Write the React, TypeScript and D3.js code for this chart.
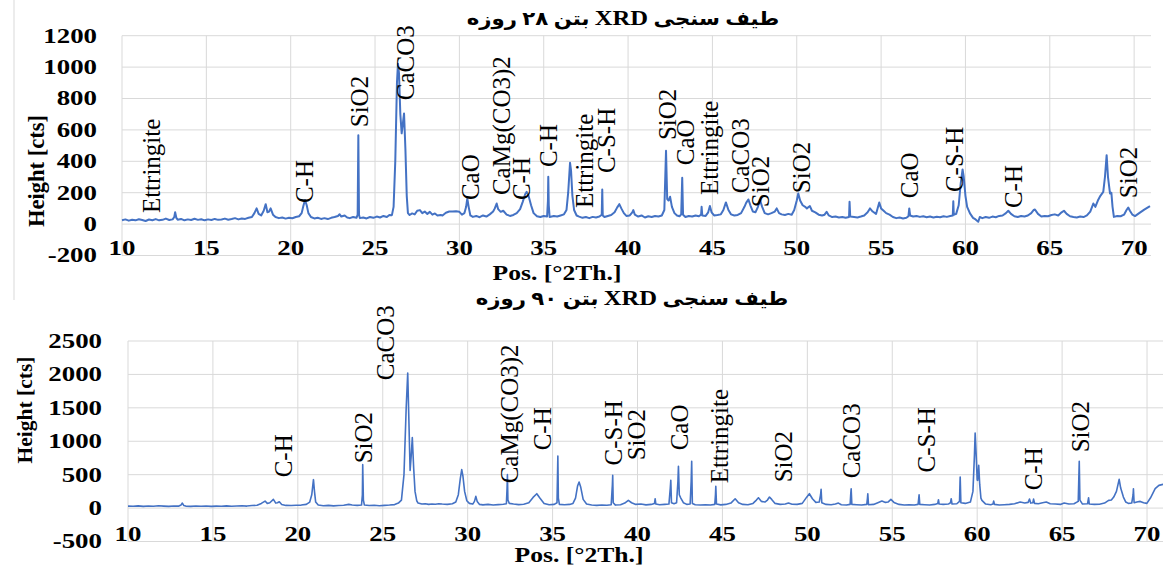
import React from 'react';
import * as d3 from 'd3';

const W = 1163;
const H = 569;

// ---------- tick values ----------
const xTicks = [10, 15, 20, 25, 30, 35, 40, 45, 50, 55, 60, 65, 70];
const yTicks28 = [-200, 0, 200, 400, 600, 800, 1000, 1200];
const yTicks90 = [-500, 0, 500, 1000, 1500, 2000, 2500];

// ---------- titles (Persian parts around the "XRD" token) ----------
const title28 = ['طیف سنجی  ', 'XRD', ' بتن ۲۸ روزه'];
const title90 = ['طیف سنجی ', 'XRD', ' بتن  ۹۰ روزه'];
const xTitle = 'Pos. [°2Th.]';
const yTitle = 'Height [cts]';

// ---------- 28 day pattern [pos °2Th, height cts] ----------
const xrd28Low: [number, number][] = [
  [10.0, 25], [10.2, 30], [10.4, 22], [10.6, 28], [10.8, 24], [11.0, 31], [11.2, 26], [11.4, 20], [11.6, 29], [11.8, 25],
  [12.0, 32], [12.2, 24], [12.4, 27], [12.6, 35], [12.8, 26], [13.0, 30], [13.1, 45], [13.15, 76], [13.22, 40], [13.3, 28],
  [13.5, 33], [13.7, 24], [13.9, 30], [14.1, 26], [14.3, 34], [14.5, 27], [14.7, 31], [14.9, 24], [15.1, 30], [15.3, 26],
  [15.5, 33], [15.7, 27], [15.9, 29], [16.1, 35], [16.3, 28], [16.5, 32], [16.7, 38], [16.9, 30], [17.1, 36], [17.3, 33],
  [17.5, 40], [17.7, 45], [17.85, 70], [17.98, 100], [18.1, 65], [18.25, 55], [18.4, 85], [18.52, 127], [18.62, 75], [18.72, 80],
  [18.81, 100], [18.95, 60], [19.1, 45], [19.3, 38], [19.5, 42], [19.7, 35], [19.9, 40], [20.1, 37], [20.3, 45], [20.5, 50],
  [20.65, 70], [20.75, 115], [20.85, 153], [20.95, 120], [21.05, 70], [21.2, 45], [21.4, 36], [21.6, 40], [21.8, 33], [22.0, 38],
  [22.2, 32], [22.4, 40], [22.6, 45], [22.8, 52], [22.9, 63], [23.0, 48], [23.2, 55], [23.35, 42], [23.5, 38], [23.7, 45],
  [23.9, 40], [23.97, 60], [24.01, 566], [24.05, 60], [24.1, 38], [24.3, 42], [24.5, 36], [24.7, 45], [24.9, 40], [25.1, 48],
  [25.3, 42], [25.5, 52], [25.7, 45], [25.85, 58], [26.0, 57], [26.1, 110], [26.2, 400], [26.3, 900], [26.36, 1022], [26.42, 960],
  [26.5, 700], [26.58, 578], [26.65, 640], [26.72, 705], [26.8, 480], [26.88, 180], [26.95, 70], [27.05, 58], [27.2, 68], [27.35, 62],
  [27.5, 85], [27.66, 89], [27.8, 70], [27.95, 80], [28.1, 65], [28.25, 78], [28.4, 60], [28.55, 68], [28.7, 55], [28.9, 58],
  [29.0, 55], [29.2, 72], [29.4, 80], [29.6, 80], [29.8, 82], [30.0, 78]
];
const xrd28Mid: [number, number][] = [
  [30.15, 60], [30.3, 70], [30.4, 110], [30.47, 163], [30.55, 110], [30.65, 55], [30.8, 46], [31.0, 52], [31.2, 44], [31.4, 55],
  [31.6, 48], [31.8, 62], [32.0, 80], [32.1, 100], [32.21, 131], [32.3, 95], [32.45, 78], [32.6, 85], [32.8, 60], [33.0, 52],
  [33.2, 58], [33.4, 70], [33.6, 95], [33.75, 140], [33.9, 190], [33.99, 205], [34.1, 180], [34.25, 120], [34.4, 70], [34.6, 50],
  [34.8, 45], [35.0, 52], [35.2, 48], [35.25, 150], [35.27, 301], [35.3, 120], [35.35, 45], [35.6, 52], [35.8, 48], [36.0, 55],
  [36.2, 62], [36.35, 90], [36.45, 200], [36.56, 390], [36.62, 340], [36.7, 180], [36.8, 90], [36.95, 55], [37.1, 48], [37.3, 40],
  [37.5, 45], [37.7, 38], [37.9, 46], [38.1, 42], [38.3, 48], [38.44, 60], [38.47, 221], [38.5, 55], [38.6, 45], [38.8, 52],
  [39.0, 58], [39.2, 75], [39.35, 105], [39.48, 127], [39.6, 100], [39.75, 70], [39.9, 52], [40.1, 55], [40.25, 75], [40.31, 89],
  [40.4, 60], [40.6, 48], [40.8, 55], [41.0, 42], [41.2, 50], [41.4, 45], [41.6, 52], [41.8, 48], [42.0, 55], [42.15, 90],
  [42.25, 467], [42.32, 160], [42.4, 150], [42.49, 174], [42.6, 110], [42.75, 70], [42.9, 55], [43.05, 50], [43.15, 62], [43.21, 295],
  [43.26, 60], [43.4, 45], [43.6, 52], [43.8, 48], [44.0, 55], [44.2, 50], [44.33, 60], [44.36, 110], [44.4, 55], [44.6, 52],
  [44.75, 75], [44.85, 115], [44.95, 75], [45.1, 55], [45.3, 58], [45.5, 62], [45.65, 90], [45.8, 138], [45.95, 90], [46.1, 62],
  [46.3, 55], [46.5, 58], [46.7, 70], [46.9, 110], [47.0, 135], [47.13, 157], [47.25, 120], [47.4, 80], [47.55, 75], [47.7, 110],
  [47.82, 153], [47.95, 110], [48.1, 70], [48.3, 62], [48.5, 70], [48.7, 80], [48.81, 100], [48.95, 70], [49.1, 62], [49.3, 58],
  [49.5, 65], [49.7, 60], [49.85, 90]
];
const xrd28High: [number, number][] = [
  [50.0, 150], [50.09, 195], [50.2, 150], [50.35, 120], [50.5, 110], [50.6, 100], [50.78, 115], [50.9, 85], [51.1, 75], [51.3, 60],
  [51.5, 55], [51.65, 60], [51.77, 78], [51.9, 55], [52.1, 45], [52.3, 48], [52.5, 42], [52.7, 45], [52.9, 40], [53.1, 45],
  [53.13, 142], [53.17, 48], [53.4, 45], [53.6, 42], [53.8, 48], [54.0, 55], [54.2, 75], [54.34, 100], [54.5, 80], [54.7, 65],
  [54.89, 138], [55.0, 100], [55.15, 85], [55.3, 70], [55.5, 60], [55.7, 45], [55.9, 38], [56.1, 42], [56.3, 36], [56.5, 40],
  [56.62, 50], [56.67, 100], [56.72, 55], [56.9, 48], [57.1, 52], [57.3, 46], [57.5, 50], [57.7, 44], [57.9, 48], [58.1, 42],
  [58.3, 47], [58.5, 44], [58.7, 50], [58.9, 46], [59.1, 52], [59.25, 55], [59.28, 146], [59.31, 60], [59.45, 65], [59.6, 120],
  [59.72, 260], [59.83, 348], [59.9, 300], [60.0, 180], [60.1, 110], [60.27, 68], [60.45, 40], [60.6, 30], [60.76, 15], [60.85, 45],
  [61.0, 38], [61.2, 45], [61.4, 40], [61.6, 48], [61.8, 44], [62.0, 52], [62.2, 55], [62.4, 70], [62.54, 85], [62.7, 65],
  [62.9, 50], [63.1, 45], [63.3, 52], [63.5, 48], [63.7, 55], [63.9, 70], [64.05, 90], [64.12, 93], [64.3, 65], [64.5, 48],
  [64.7, 52], [64.9, 50], [65.1, 58], [65.3, 62], [65.5, 55], [65.7, 75], [65.84, 85], [66.0, 65], [66.2, 50], [66.4, 45],
  [66.6, 42], [66.8, 48], [67.0, 45], [67.2, 55], [67.4, 80], [67.58, 131], [67.7, 110], [67.85, 150], [68.0, 180], [68.17, 205],
  [68.27, 300], [68.37, 439], [68.45, 300], [68.57, 195], [68.65, 200], [68.72, 110], [68.8, 46], [69.0, 52], [69.2, 50], [69.4, 60],
  [69.55, 90], [69.65, 106], [69.75, 85], [69.9, 60], [70.05, 51], [70.3, 70], [70.6, 92], [70.94, 115]
];

// ---------- 90 day pattern [pos °2Th, height cts] ----------
const xrd90Low: [number, number][] = [
  [10.0, 30], [10.3, 28], [10.6, 33], [10.9, 26], [11.2, 31], [11.5, 27], [11.8, 34], [12.1, 29], [12.4, 25], [12.7, 32],
  [13.0, 30], [13.12, 45], [13.2, 75], [13.28, 40], [13.4, 30], [13.7, 26], [14.0, 32], [14.3, 27], [14.6, 31], [14.9, 25],
  [15.2, 30], [15.5, 27], [15.8, 33], [16.1, 28], [16.4, 31], [16.7, 35], [17.0, 30], [17.3, 38], [17.6, 42], [17.85, 70],
  [18.07, 105], [18.2, 70], [18.35, 80], [18.56, 130], [18.7, 75], [18.8, 80], [18.91, 95], [19.05, 55], [19.3, 40], [19.6, 38],
  [19.9, 42], [20.2, 45], [20.5, 55], [20.7, 90], [20.82, 200], [20.92, 425], [20.98, 250], [21.05, 90], [21.2, 45], [21.5, 35],
  [21.8, 40], [22.1, 33], [22.4, 38], [22.7, 42], [23.0, 55], [23.2, 45], [23.5, 40], [23.75, 45], [23.8, 200], [23.82, 650],
  [23.86, 120], [23.92, 45], [24.2, 38], [24.5, 42], [24.8, 35], [25.1, 40], [25.4, 45], [25.7, 52], [25.92, 75], [26.1, 120],
  [26.25, 500], [26.38, 1500], [26.47, 2021], [26.54, 1300], [26.61, 564], [26.68, 800], [26.74, 1054], [26.82, 600], [26.9, 250], [27.0, 110],
  [27.08, 75], [27.3, 60], [27.5, 65], [27.7, 55], [27.9, 62], [28.1, 58], [28.3, 65], [28.5, 60], [28.8, 55], [29.1, 65],
  [29.3, 90], [29.45, 200], [29.57, 450], [29.65, 575], [29.72, 480], [29.82, 250], [29.95, 110], [30.1, 70]
];
const xrd90Mid: [number, number][] = [
  [30.3, 60], [30.4, 100], [30.48, 175], [30.56, 100], [30.7, 55], [30.9, 48], [31.2, 55], [31.5, 45], [31.8, 52], [32.1, 58],
  [32.28, 65], [32.32, 300], [32.34, 500], [32.37, 120], [32.45, 70], [32.7, 60], [33.0, 52], [33.3, 58], [33.6, 80], [33.85, 160],
  [34.07, 215], [34.25, 150], [34.5, 70], [34.8, 50], [35.1, 55], [35.26, 80], [35.29, 500], [35.31, 780], [35.34, 150], [35.4, 55],
  [35.7, 50], [36.0, 55], [36.2, 70], [36.35, 150], [36.47, 330], [36.56, 390], [36.65, 320], [36.8, 130], [37.0, 60], [37.3, 45],
  [37.6, 40], [37.9, 45], [38.2, 42], [38.45, 50], [38.52, 350], [38.54, 490], [38.57, 80], [38.7, 45], [39.0, 50], [39.25, 75],
  [39.46, 115], [39.65, 80], [39.9, 55], [40.2, 60], [40.5, 48], [40.8, 55], [41.0, 70], [41.04, 140], [41.08, 60], [41.3, 50],
  [41.6, 55], [41.85, 60], [41.93, 300], [41.96, 415], [42.0, 80], [42.15, 65], [42.3, 80], [42.38, 400], [42.41, 625], [42.46, 200],
  [42.55, 150], [42.7, 80], [42.9, 55], [43.1, 60], [43.16, 400], [43.19, 700], [43.23, 70], [43.4, 50], [43.7, 45], [44.0, 50],
  [44.3, 45], [44.55, 55], [44.59, 200], [44.61, 325], [44.65, 60], [44.9, 48], [45.2, 55], [45.5, 75], [45.75, 140], [45.95, 80],
  [46.2, 55], [46.5, 50], [46.8, 70], [47.0, 120], [47.12, 155], [47.3, 100], [47.5, 90], [47.65, 120], [47.77, 165], [47.9, 130],
  [48.1, 70], [48.4, 55], [48.7, 60], [48.89, 75], [49.1, 58], [49.4, 55], [49.7, 70]
];
const xrd90High: [number, number][] = [
  [49.95, 160], [50.12, 215], [50.3, 140], [50.5, 85], [50.7, 90], [50.78, 200], [50.81, 280], [50.85, 80], [51.1, 55], [51.4, 50],
  [51.65, 60], [51.83, 75], [52.0, 50], [52.3, 45], [52.52, 55], [52.56, 230], [52.58, 290], [52.62, 55], [52.9, 50], [53.2, 45],
  [53.5, 55], [53.54, 150], [53.56, 215], [53.6, 50], [53.9, 55], [54.15, 80], [54.39, 105], [54.6, 85], [54.75, 90], [54.92, 130],
  [55.1, 85], [55.4, 55], [55.7, 45], [56.0, 50], [56.3, 45], [56.52, 55], [56.56, 150], [56.58, 200], [56.62, 55], [56.9, 50],
  [57.2, 45], [57.5, 55], [57.68, 70], [57.72, 125], [57.76, 60], [58.0, 55], [58.3, 60], [58.43, 80], [58.47, 140], [58.52, 60],
  [58.8, 65], [58.96, 100], [58.99, 400], [59.0, 465], [59.04, 80], [59.3, 70], [59.6, 90], [59.75, 250], [59.84, 800], [59.88, 1123],
  [59.94, 800], [60.0, 420], [60.03, 415], [60.09, 640], [60.15, 350], [60.22, 150], [60.28, 115], [60.5, 60], [60.8, 50], [60.93, 60],
  [60.97, 105], [61.02, 55], [61.3, 45], [61.6, 50], [61.9, 55], [62.2, 65], [62.53, 90], [62.8, 75], [63.0, 85], [63.08, 135],
  [63.15, 75], [63.28, 80], [63.32, 135], [63.38, 70], [63.6, 65], [63.85, 80], [64.07, 90], [64.3, 65], [64.6, 60], [64.9, 55],
  [65.12, 75], [65.4, 60], [65.7, 65], [65.95, 100], [66.01, 700], [66.05, 120], [66.2, 60], [66.5, 65], [66.56, 155], [66.6, 60],
  [66.9, 55], [67.2, 58], [67.5, 75], [67.74, 115], [67.9, 120], [68.04, 165], [68.2, 250], [68.36, 430], [68.45, 300], [68.61, 165],
  [68.75, 90], [68.9, 70], [69.1, 75], [69.18, 200], [69.2, 290], [69.24, 80], [69.4, 90], [69.6, 100], [69.8, 80], [69.99, 70],
  [70.2, 150], [70.48, 290], [70.7, 340], [70.95, 355]
];

// ---------- phase annotations: [phase, pos °2Th, height cts at label foot] ----------
const phases28: [string, number, number][] = [
  ['Ettringite', 11.76, 70], ['C-H', 20.79, 134], ['SiO2', 24.1, 617], ['CaCO3', 26.78, 789],
  ['CaO', 30.63, 153], ['CaMg(CO3)2', 32.47, 185], ['C-H', 33.71, 153], ['C-H', 35.31, 363],
  ['Ettringite', 37.39, 102], ['C-S-H', 38.75, 325], ['SiO2', 42.31, 535], ['CaO', 43.43, 375],
  ['Ettringite', 44.85, 185], ['CaCO3', 46.69, 197], ['SiO2', 47.88, 108], ['SiO2', 50.31, 197],
  ['CaO', 56.71, 165], ['C-S-H', 59.38, 204], ['C-H', 62.82, 102], ['SiO2', 69.69, 165]
];
const phases90: [string, number, number][] = [
  ['C-H', 19.13, 460], ['SiO2', 23.84, 669], ['CaCO3', 25.19, 1912], ['CaMg(CO3)2', 32.44, 370],
  ['C-H', 34.38, 864], ['C-S-H', 38.56, 639], ['SiO2', 39.92, 714], ['CaO', 42.5, 864],
  ['Ettringite', 44.81, 370], ['SiO2', 48.57, 385], ['CaCO3', 52.58, 445], ['C-S-H', 57.0, 534],
  ['C-H', 63.3, 265], ['SiO2', 66.07, 834]
];

const SERIF = "'Liberation Serif', 'Times New Roman', serif";
const TITLE_FONT = "'Liberation Serif', 'DejaVu Sans', serif";
const BLUE = '#4472C4';
const GRID = '#d9d9d9';

type PanelProps = {
  data: [number, number][];
  phases: [string, number, number][];
  yTicks: number[];
  left: number; right: number; top: number; bottom: number;
  yTickRight: number;
  xTitleX: number; xTitleY: number;
  yTitleX: number; yTitleY: number; yTitleSize: number;
  title: string[]; titleX: number; titleY: number;
  lineWidth: number;
};

function Panel(p: PanelProps) {
  const x = d3.scaleLinear().domain([10, 71]).range([p.left, p.right]);
  const y = d3.scaleLinear().domain([p.yTicks[0], p.yTicks[p.yTicks.length - 1]]).range([p.bottom, p.top]);
  const line = d3.line<[number, number]>().x(d => x(d[0])).y(d => y(d[1]));
  const sx = 1.28;
  return (
    <g>
      {p.yTicks.map(t => (
        <line key={'h' + t} x1={p.left} x2={p.right} y1={y(t)} y2={y(t)} stroke={GRID} strokeWidth={1} />
      ))}
      {xTicks.map(t => (
        <line key={'v' + t} x1={x(t)} x2={x(t)} y1={p.top} y2={p.bottom} stroke={GRID} strokeWidth={1} />
      ))}
      <path d={line(p.data) || ''} fill="none" stroke={BLUE} strokeWidth={p.lineWidth} strokeLinejoin="round" />
      {p.yTicks.map(t => (
        <text key={'yl' + t} transform={`translate(${p.yTickRight},${y(t)}) scale(${sx},1)`}
          textAnchor="end" dominantBaseline="central" fontFamily={SERIF} fontWeight="bold" fontSize={21}>{t}</text>
      ))}
      {xTicks.map(t => (
        <text key={'xl' + t} transform={`translate(${x(t)},${p.bottom - 7}) scale(${sx},1)`}
          textAnchor="middle" dominantBaseline="central" fontFamily={SERIF} fontWeight="bold" fontSize={21}>{t}</text>
      ))}
      {p.phases.map(([name, pos, cts], i) => (
        <text key={'ph' + i} transform={`translate(${x(pos)},${y(cts)}) rotate(-90)`}
          textAnchor="start" dominantBaseline="central" fontFamily={SERIF} fontSize={25}>{name}</text>
      ))}
      <text transform={`translate(${p.xTitleX},${p.xTitleY}) scale(${sx},1)`} textAnchor="middle"
        fontFamily={SERIF} fontWeight="bold" fontSize={20}>{xTitle}</text>
      <text transform={`translate(${p.yTitleX},${p.yTitleY}) rotate(-90)`} textAnchor="middle" dominantBaseline="central"
        fontFamily={SERIF} fontWeight="bold" fontSize={p.yTitleSize}>{yTitle}</text>
      <text transform={`translate(${p.titleX},${p.titleY}) scale(1.12,1)`} textAnchor="middle" direction="rtl"
        style={{ direction: 'rtl', unicodeBidi: 'embed' } as any}
        fontFamily={TITLE_FONT} fontWeight="bold" fontSize={19}>
        <tspan>{p.title[0]}</tspan>
        <tspan fontSize={22}>{p.title[1]}</tspan>
        <tspan>{p.title[2]}</tspan>
      </text>
    </g>
  );
}

export default function App() {
  const data28 = [...xrd28Low, ...xrd28Mid, ...xrd28High];
  const data90 = [...xrd90Low, ...xrd90Mid, ...xrd90High];
  return (
    <svg width={W} height={H} viewBox={`0 0 ${W} ${H}`}
      style={{ position: 'absolute', left: 0, top: 0, background: '#fff' }}>
      <rect x={0} y={0} width={W} height={H} fill="#fff" />
      <line x1={14} x2={14} y1={0} y2={300} stroke={GRID} strokeWidth={1} />
      <Panel data={data28} phases={phases28} yTicks={yTicks28}
        left={122} right={1151} top={35.7} bottom={255.5} yTickRight={97}
        xTitleX={557} xTitleY={280} yTitleX={36} yTitleY={171} yTitleSize={22.5}
        title={title28} titleX={623} titleY={25} lineWidth={2} />
      <Panel data={data90} phases={phases90} yTicks={yTicks90}
        left={128} right={1164} top={341} bottom={541.5} yTickRight={102}
        xTitleX={579} xTitleY={562} yTitleX={25} yTitleY={410} yTitleSize={21.5}
        title={title90} titleX={632} titleY={305} lineWidth={1.6} />
    </svg>
  );
}
